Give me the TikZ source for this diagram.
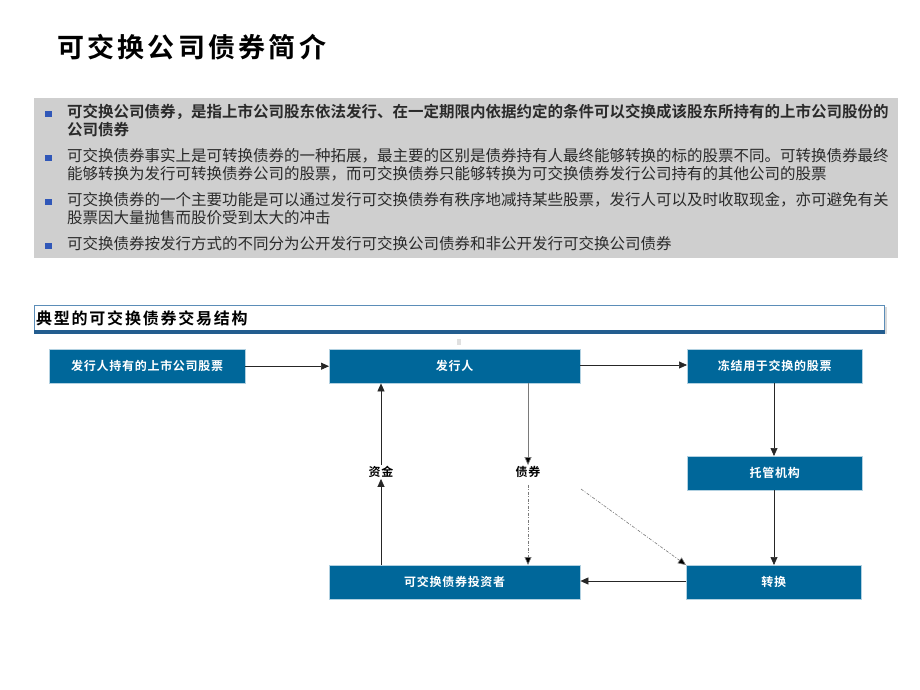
\documentclass[tikz,border=0pt]{standalone}
\usepackage{fontspec}
\setmainfont{Noto Sans CJK SC}
\newfontfamily\cjkb{Noto Sans CJK SC Bold}
\usetikzlibrary{arrows.meta}
\definecolor{nodeblue}{HTML}{00679A}
\definecolor{panelgrey}{HTML}{CFCFCF}
\definecolor{bulletblue}{HTML}{3057B8}
\definecolor{headborder}{HTML}{5B8DB8}
\definecolor{headline}{HTML}{235D8F}
\definecolor{bodytext}{HTML}{2A2A2A}
\definecolor{flowgrey}{HTML}{7A7A7A}
\tikzset{
  flowbox/.style={draw=white!70!nodeblue, line width=0.4pt, fill=nodeblue, text=white, font=\cjkb\fontsize{12}{12}\selectfont\addfontfeature{LetterSpace=6}, inner sep=0pt, anchor=north west},
  bulletsq/.style={fill=bulletblue, minimum width=7pt, minimum height=6.5pt, inner sep=0pt},
  bodyline/.style={anchor=north west, inner sep=0pt, text=bodytext, font=\fontsize{15.5}{18}\selectfont, align=left},
  arr/.style={-{Triangle[length=8pt,width=7pt]}, line width=0.7pt, draw=black!85},
  greyarr/.style={-{Triangle[length=8pt,width=7pt]}, line width=0.7pt, draw=flowgrey, arrows={-{Triangle[length=8pt,width=7pt,fill=black]}}},
  dasharr/.style={-{Triangle[length=8pt,width=7pt,fill=black]}, line width=0.6pt, draw=flowgrey, dash pattern=on 3pt off 1.5pt on 1pt off 1.5pt},
  flowlabel/.style={inner sep=1pt, font=\cjkb\fontsize{12}{12}\selectfont\addfontfeature{LetterSpace=6}}
}
\begin{document}
\begin{tikzpicture}[x=1pt,y=-1pt]
\useasboundingbox[fill=white] (0,0) rectangle (920,690);
% title
\node[anchor=west, inner sep=0pt] (title) at (57,47) {\cjkb\fontsize{27}{27}\selectfont\addfontfeature{LetterSpace=12}可交换公司债券简介};
% grey panel
\fill[panelgrey] (34,98) rectangle (898,258);
\node[bulletsq] (b1) at (48.5,114) {};
\node[bulletsq] (b2) at (48.5,158) {};
\node[bulletsq] (b3) at (48.5,202) {};
\node[bulletsq] (b4) at (48.5,246) {};
\node[bodyline, font=\cjkb\fontsize{15.5}{18}\selectfont] (t1) at (67,104) {可交换公司债券，是指上市公司股东依法发行、在一定期限内依据约定的条件可以交换成该股东所持有的上市公司股份的\\公司债券};
\node[bodyline] (t2) at (67,148) {可交换债券事实上是可转换债券的一种拓展，最主要的区别是债券持有人最终能够转换的标的股票不同。可转换债券最终\\能够转换为发行可转换债券公司的股票，而可交换债券只能够转换为可交换债券发行公司持有的其他公司的股票};
\node[bodyline] (t3) at (67,192) {可交换债券的一个主要功能是可以通过发行可交换债券有秩序地减持某些股票，发行人可以及时收取现金，亦可避免有关\\股票因大量抛售而股价受到太大的冲击};
\node[bodyline] (t4) at (67,236) {可交换债券按发行方式的不同分为公开发行可交换公司债券和非公开发行可交换公司债券};
% section header
\fill[black!15] (36,307) rectangle (887,334);
\draw[headborder, line width=1pt, fill=white] (34.5,305.5) rectangle (884.5,330);
\fill[headline] (34,330) rectangle (885,333.5);
\node[anchor=west, inner sep=0pt] (head) at (36,318) {\cjkb\fontsize{16}{16}\selectfont\addfontfeature{LetterSpace=11}典型的可交换债券交易结构};
\fill[black!12] (457,339) rectangle (461,345);
% flow boxes
\node[flowbox, minimum width=196pt, minimum height=34pt] (A) at (49,349) {发行人持有的上市公司股票};
\node[flowbox, minimum width=251pt, minimum height=34pt] (B) at (329,349) {发行人};
\node[flowbox, minimum width=175pt, minimum height=34pt] (C) at (687,349) {冻结用于交换的股票};
\node[flowbox, minimum width=175pt, minimum height=34pt] (D) at (687,456) {托管机构};
\node[flowbox, minimum width=175pt, minimum height=34pt] (E) at (686,565) {转换};
\node[flowbox, minimum width=251pt, minimum height=34pt] (F) at (329,565) {可交换债券投资者};
\node[flowlabel] (fund) at (381,472) {资金};
\node[flowlabel] (bond) at (528,472) {债券};
\coordinate (bondtail) at (581,489);
% connectors
\draw[arr] (A.east) -- (B.west);
\draw[arr] (B.east |- 0,365) -- (C.west |- 0,365);
\draw[arr] (C.south -| 774,0) -- (D.north -| 774,0);
\draw[arr] (D.south -| 774,0) -- (E.north -| 774,0);
\draw[arr] (E.west |- 0,581) -- (F.east |- 0,581);
\draw[arr] (F.north -| 381,0) -- (fund.south -| 381,0);
\draw[arr] (fund.north -| 381,0) -- (B.south -| 381,0);
\draw[greyarr] (B.south -| 528,0) -- (bond.north -| 528,0);
\draw[dasharr] (bond.south -| 528,0) ++(0,6) -- (F.north -| 528,0);
\draw[dasharr] (bondtail) -- (E.north west);
\end{tikzpicture}
\end{document}
